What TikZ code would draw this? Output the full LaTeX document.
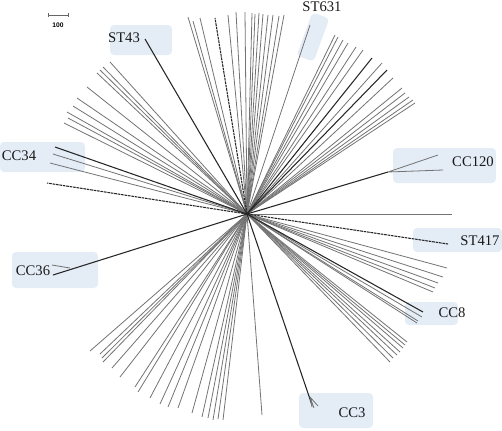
\documentclass[tikz,border=0pt]{standalone}
\usepackage{fontspec}
\setmainfont{Liberation Serif}
\newfontfamily\barfont{Liberation Sans}
\definecolor{boxblue}{HTML}{E4ECF6}
\begin{document}
\begin{tikzpicture}[x=0.75pt,y=-0.75pt,
  br/.style={draw=black!55,line width=0.6pt},
  dk/.style={draw=black!85,line width=0.8pt},
  lbox/.style={fill=boxblue,rounded corners=3pt},
  lab/.style={font=\fontsize{11}{12}\selectfont,inner sep=0pt,text=black!90}]
\useasboundingbox (0,0) rectangle (502,430);
\coordinate (C) at (247,214);
% label boxes
\fill[lbox] (110,25) rectangle (172,55);
\fill[lbox,rotate around={-20:(313,37)}] (304,14) rectangle (322,60);
\fill[lbox] (0,142) rectangle (85,172);
\fill[lbox] (393,148) rectangle (496,183);
\fill[lbox] (413,228) rectangle (502,252);
\fill[lbox] (405,302) rectangle (458,325);
\fill[lbox] (299,393) rectangle (373,428);
\fill[lbox] (12,252) rectangle (98,288);
% scale bar
\draw[black!60,line width=0.4pt] (48,15) -- (68,15) (48,13) -- (48,17) (68,13) -- (68,17);
\node[font=\barfont\bfseries\fontsize{5}{6}\selectfont,inner sep=0pt] (bar) at (58,25) {100};
% grey branches
\foreach \p in {(188,17),(193,21),(200,18),(228,15),(236,12),(245,12),(252,13),(255,14),(259,13),(263,14),(268,15),(273,15),(279,16),(284,15),
  (110,62),(103,67),(100,70),(97,73),(87,87),(77,98),(73,106),(67,112),(68,118),(64,123),(53,154),(50,163),
  (310,25),(335,35),(338,37),(343,40),(348,43),(356,47),(363,50),(382,63),(393,78),(402,88),(405,93),(409,97),(413,100),(415,103),
  (452,214),(447,268),(443,277),(438,283),(435,288),(433,292),(422,317),(418,321),(417,323),
  (407,342),(405,345),(403,348),(400,352),(397,355),(393,358),(390,362),(262,415),
  (90,351),(100,354),(102,358),(103,362),(112,368),(120,377),(135,387),(138,392),(150,398),(160,404),(168,407),(178,408),(192,413),(202,417),(208,418),(213,420),(218,419),(223,420)}
  \draw[br] (C) -- \p;
% dark branches
\foreach \p in {(145,39),(372,58),(387,70),(55,147),(423,312),(312,405)}
  \draw[dk] (C) -- \p;
\draw[dk,dashed,dash pattern=on 2pt off 0.6pt] (C) -- (215,18);
\draw[dk,dashed,dash pattern=on 2pt off 0.6pt] (C) -- (47,183);
\draw[dk,dashed,dash pattern=on 2pt off 0.6pt] (C) -- (448,244);
% CC120 subtree
\coordinate (c120) at (388,172);
\draw[dk] (C) -- (c120);
\draw[br] (c120) -- (438,155) (c120) -- (443,170);
% CC36 subtree
\coordinate (c36) at (70,268);
\draw[dk] (C) -- (53,275);
\draw[br] (c36) -- (52,265);
% CC3 tips
\draw[br] (310,397) -- (318,406) (310,397) -- (312,407) (310,397) -- (314,408);
% labels
\node[lab] (l43) at (124,38) {ST43};
\node[lab] (l631) at (322,7) {ST631};
\node[lab] (l34) at (19,156) {CC34};
\node[lab] (l120) at (473,162) {CC120};
\node[lab] (l417) at (480,241) {ST417};
\node[lab] (l8) at (452,313) {CC8};
\node[lab] (l3) at (352,413) {CC3};
\node[lab] (l36) at (33,271) {CC36};
\end{tikzpicture}
\end{document}
